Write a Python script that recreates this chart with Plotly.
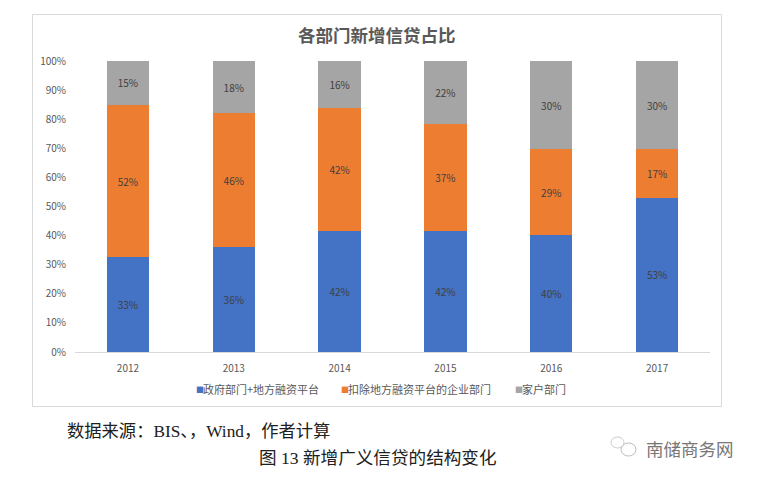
import plotly.graph_objects as go

W, H = 757, 481
years = ["2012", "2013", "2014", "2015", "2016", "2017"]
gov = [32.5, 36.0, 41.5, 41.5, 40.2, 53.0]
corp = [52.5, 46.0, 42.5, 36.8, 29.5, 16.7]
hh = [15.0, 18.0, 16.0, 21.7, 30.3, 30.3]
gov_labels = ["33%", "36%", "42%", "42%", "40%", "53%"]
corp_labels = ["52%", "46%", "42%", "37%", "29%", "17%"]
hh_labels = ["15%", "18%", "16%", "22%", "30%", "30%"]
names = ["政府部门+地方融资平台", "扣除地方融资平台的企业部门", "家户部门"]
colors = ["#4472C4", "#ED7D31", "#A5A5A5"]
legend_x = [194, 339, 513]
ticks = [0, 10, 20, 30, 40, 50, 60, 70, 80, 90, 100]
title = "各部门新增信贷占比"
source = "数据来源：BIS、，Wind，作者计算"
caption = "图 13 新增广义信贷的结构变化"
watermark = "南储商务网"

CJK = "Noto Sans CJK SC"
SERIF = "Liberation Serif, Noto Sans CJK SC"

fig = go.Figure()
for name, vals, labs, col in zip(names, [gov, corp, hh], [gov_labels, corp_labels, hh_labels], colors):
    fig.add_bar(
        x=years, y=vals, name=name, marker=dict(color=col, line=dict(width=0)),
        text=labs, textposition="inside", insidetextanchor="middle", textangle=0,
        insidetextfont=dict(size=10, color="#404040", family=CJK),
        hoverinfo="skip",
    )


def px(x):
    return x / W


def py(y):
    return 1 - y / H


def note(text, x, y, anchor, size, color, family):
    return dict(text=text, x=px(x), y=py(y), xref="paper", yref="paper", xanchor=anchor, yanchor="middle",
                showarrow=False, font=dict(size=size, color=color, family=family))


annotations = [
    note(f"<b>{title}</b>", 377, 34, "center", 17.5, "#595959", CJK),
    note(source, 65, 431, "left", 17.3, "#202020", SERIF),
    note(caption, 378, 458, "center", 17.6, "#202020", SERIF),
    note(watermark, 644, 448, "left", 17.5, "#777777", CJK),
]
for name, col, lx in zip(names, colors, legend_x):
    annotations.append(note("■", lx, 389, "left", 8, col, CJK))
    annotations.append(note(name, lx + 7, 389, "left", 11, "#595959", CJK))

fig.update_layout(
    width=W, height=H, barmode="stack", bargap=0.6,
    paper_bgcolor="white", plot_bgcolor="white",
    margin=dict(l=0, r=0, t=0, b=0, autoexpand=False),
    showlegend=False,
    xaxis=dict(
        domain=[px(75), px(710)], anchor="y", type="category", automargin=False,
        showgrid=False, showline=True, linecolor="#D9D9D9", linewidth=1,
        ticks="", ticklabelstandoff=7, tickfont=dict(size=10, color="#595959", family=CJK),
    ),
    yaxis=dict(
        domain=[py(352), py(61)], range=[0, 100], tickvals=ticks, automargin=False,
        ticktext=[f"{t}%" for t in ticks], showgrid=False, zeroline=False,
        showline=False, ticks="", ticklabelstandoff=8,
        tickfont=dict(size=10, color="#595959", family=CJK),
    ),
    shapes=[
        dict(type="rect", xref="paper", yref="paper", x0=px(32.5), x1=px(721.5), y0=py(14.5), y1=py(406.5),
             line=dict(color="#D9D9D9", width=1), fillcolor="rgba(0,0,0,0)", layer="below"),
        dict(type="circle", xref="paper", yref="paper", x0=px(621), x1=px(636), y0=py(456), y1=py(443),
             line=dict(color="#BBBBBB", width=1)),
        dict(type="circle", xref="paper", yref="paper", x0=px(611), x1=px(624), y0=py(448), y1=py(437),
             line=dict(color="#CCCCCC", width=1)),
    ],
    annotations=annotations,
)
fig.write_html("out.html", config=dict(displayModeBar=False),
               post_script="document.body.style.margin='0';")
